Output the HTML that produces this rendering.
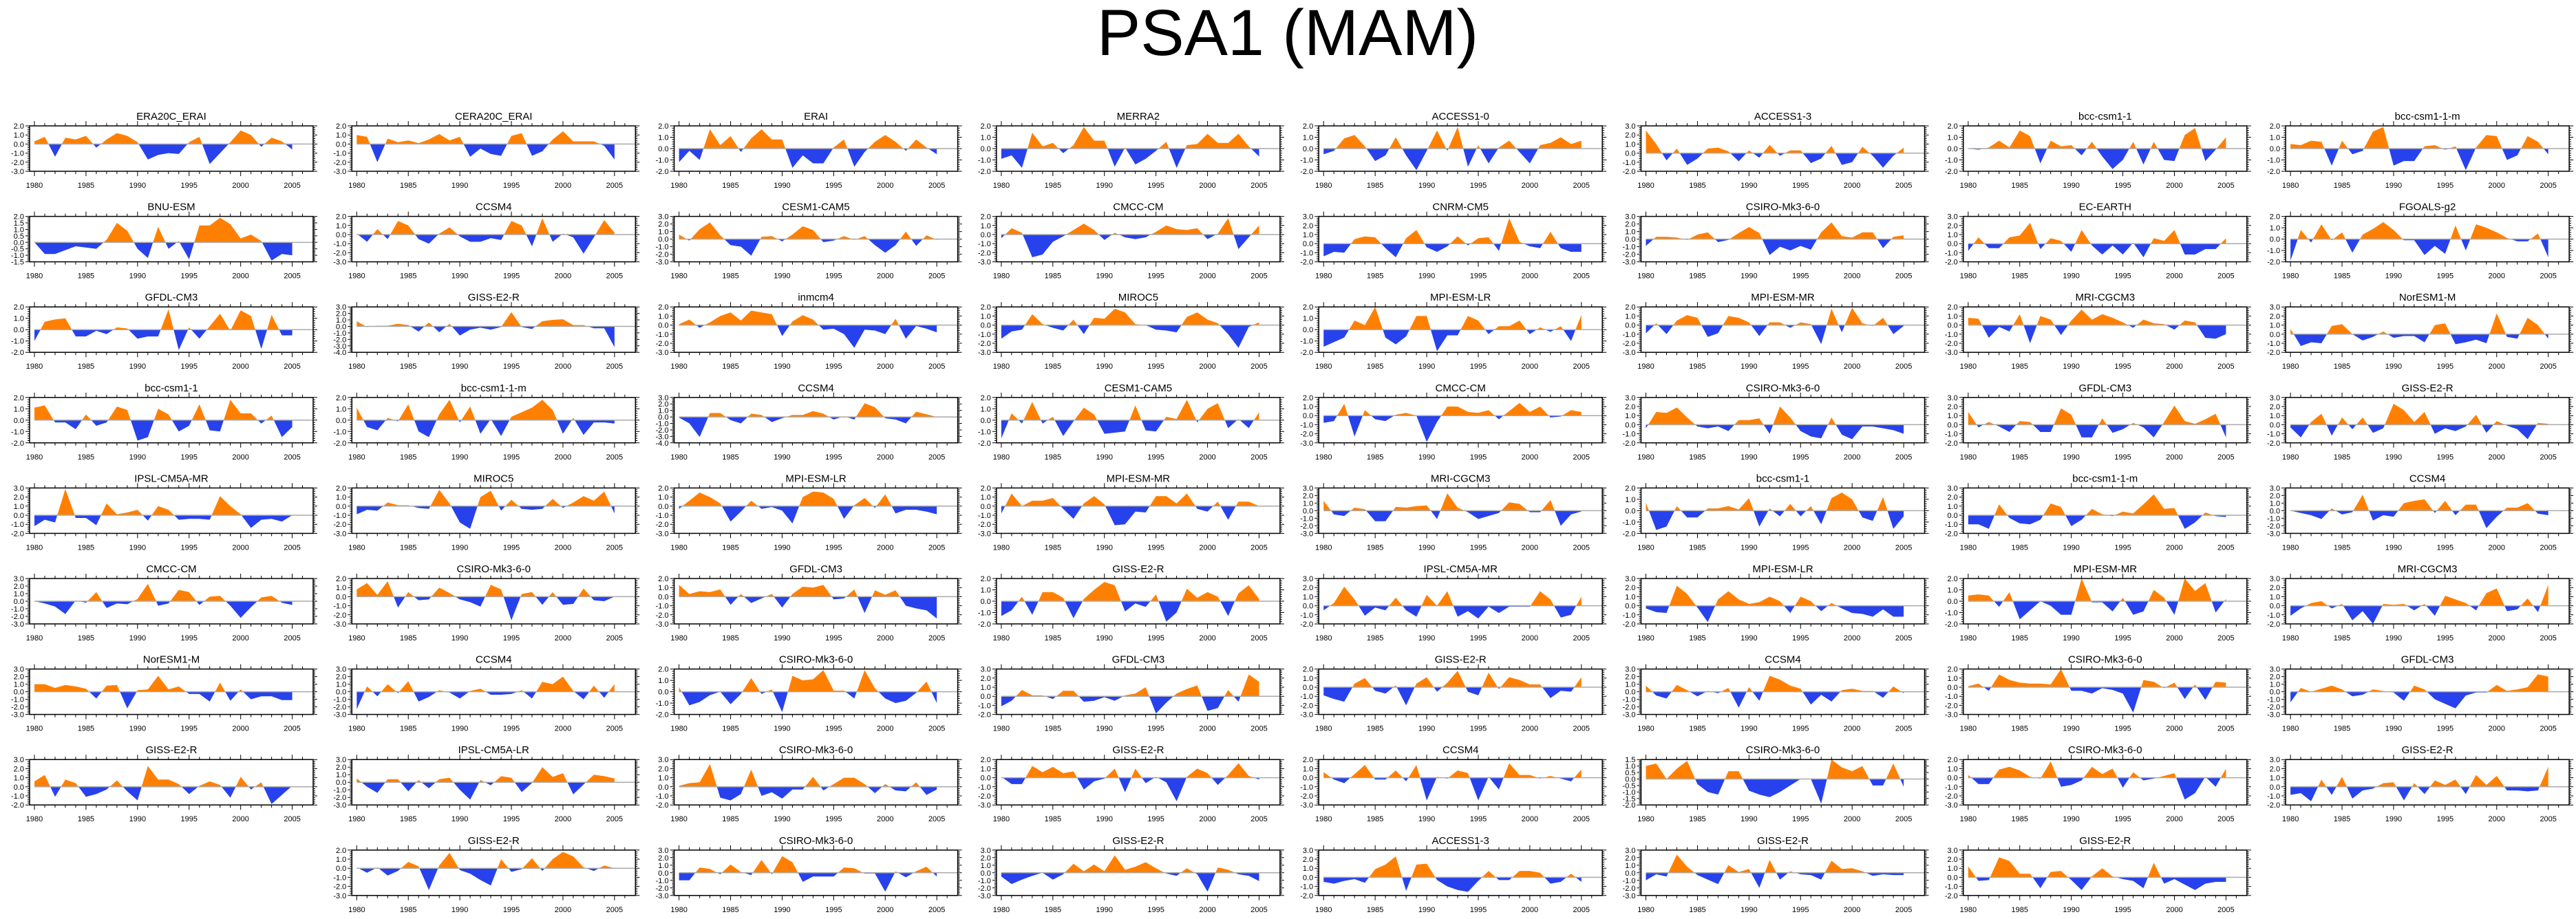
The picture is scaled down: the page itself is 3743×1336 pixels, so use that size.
<!DOCTYPE html>
<html><head><meta charset="utf-8">
<style>
body{margin:0;background:#fff;}
svg{display:block;font-family:"Liberation Sans",sans-serif;}
</style></head>
<body>
<svg id="fig" width="3743" height="1336" viewBox="0 0 3743 1336" xmlns="http://www.w3.org/2000/svg">
<text x="1871" y="80" text-anchor="middle" font-size="95" fill="#000">PSA1 (MAM)</text>
<g id="panels"></g>
</svg>
<script>
const years = [1980,1981,1982,1983,1984,1985,1986,1987,1988,1989,1990,1991,1992,1993,1994,1995,1996,1997,1998,1999,2000,2001,2002,2003,2004,2005];
const yearTickLabels = [1980,1985,1990,1995,2000,2005];
const panelTitles = [
"ERA20C_ERAI","CERA20C_ERAI","ERAI","MERRA2","ACCESS1-0","ACCESS1-3","bcc-csm1-1","bcc-csm1-1-m",
"BNU-ESM","CCSM4","CESM1-CAM5","CMCC-CM","CNRM-CM5","CSIRO-Mk3-6-0","EC-EARTH","FGOALS-g2",
"GFDL-CM3","GISS-E2-R","inmcm4","MIROC5","MPI-ESM-LR","MPI-ESM-MR","MRI-CGCM3","NorESM1-M",
"bcc-csm1-1","bcc-csm1-1-m","CCSM4","CESM1-CAM5","CMCC-CM","CSIRO-Mk3-6-0","GFDL-CM3","GISS-E2-R",
"IPSL-CM5A-MR","MIROC5","MPI-ESM-LR","MPI-ESM-MR","MRI-CGCM3","bcc-csm1-1","bcc-csm1-1-m","CCSM4",
"CMCC-CM","CSIRO-Mk3-6-0","GFDL-CM3","GISS-E2-R","IPSL-CM5A-MR","MPI-ESM-LR","MPI-ESM-MR","MRI-CGCM3",
"NorESM1-M","CCSM4","CSIRO-Mk3-6-0","GFDL-CM3","GISS-E2-R","CCSM4","CSIRO-Mk3-6-0","GFDL-CM3",
"GISS-E2-R","IPSL-CM5A-LR","CSIRO-Mk3-6-0","GISS-E2-R","CCSM4","CSIRO-Mk3-6-0","CSIRO-Mk3-6-0","GISS-E2-R",
"GISS-E2-R","CSIRO-Mk3-6-0","GISS-E2-R","ACCESS1-3","GISS-E2-R","GISS-E2-R"];
const yMaxValues = [2,2,2,2,2,3,2,2, 2,2,3,2,3,3,3,2, 2,3,2,2,2,2,2,3, 2,2,3,2,2,3,3,3, 3,2,2,2,3,2,3,3, 3,2,2,2,3,3,2,3, 3,3,2,3,2,3,2,3, 3,3,3,2,2,1.5,2,3, 2,3,3,3,3,3];
const yMinValues = [-3,-3,-2,-2,-2,-2,-2,-2, -1.5,-3,-3,-3,-2,-3,-2,-2, -2,-4,-3,-3,-2,-3,-3,-2, -2,-2,-4,-2,-3,-2,-2,-2, -2,-3,-3,-3,-3,-2,-2,-3, -3,-3,-3,-2,-2,-2,-2,-2, -3,-3,-2,-2,-3,-3,-3,-3, -2,-3,-2,-3,-3,-2,-3,-2, -3,-3,-3,-2,-3,-2];
const yTickSteps = [1,1,1,1,1,1,1,1, 0.5,1,1,1,1,1,1,1, 1,1,1,1,1,1,1,1, 1,1,1,1,1,1,1,1, 1,1,1,1,1,1,1,1, 1,1,1,1,1,1,1,1, 1,1,1,1,1,1,1,1, 1,1,1,1,1,0.5,1,1, 1,1,1,1,1,1];
const seriesValues = [
[0.3,0.8,-1.4,0.7,0.5,0.9,-0.4,0.5,1.2,0.9,0.2,-1.7,-1.2,-1.0,-1.1,0.2,0.8,-2.2,-1.0,0.2,1.5,1.0,-0.3,0.7,0.3,-0.6],
[1.0,0.8,-2.0,0.6,0.2,0.4,0.1,0.5,1.1,0.4,0.8,-1.4,-0.5,-1.1,-1.3,0.9,1.2,-1.3,-0.8,0.5,1.4,0.3,0.3,0.3,-0.2,-1.7],
[-1.2,-0.2,-1.0,1.7,0.3,1.1,-0.3,0.9,1.7,0.8,0.8,-1.7,-0.6,-1.3,-1.3,0.1,0.8,-1.6,-0.3,0.6,1.2,0.6,-0.2,0.8,0.1,-0.5],
[-0.9,-0.6,-1.7,1.4,0.2,0.5,-0.4,0.3,1.9,0.7,0.7,-1.6,0.1,-1.4,-0.9,-0.2,0.6,-1.7,0.3,0.4,1.3,0.5,0.5,1.3,0.2,-0.7],
[-0.5,-0.2,0.9,1.2,0.2,-1.1,-0.6,1.0,-0.6,-1.9,-0.2,1.6,-0.2,1.9,-1.6,0.3,-1.3,0.1,0.7,-0.3,-1.3,0.3,0.5,1.0,0.4,0.7],
[2.5,1.0,-0.8,0.5,-1.3,-0.6,0.5,0.6,0.2,-0.9,0.3,-0.5,0.9,-0.3,0.3,0.3,-1.1,-0.6,0.8,-1.3,-1.0,0.7,-0.3,-1.6,-0.3,0.6],
[0.0,-0.1,0.1,0.7,0.1,1.6,1.1,-1.3,0.7,0.2,0.3,-0.6,0.6,-0.7,-1.8,-1.0,0.6,-1.4,0.6,-1.0,-1.1,1.2,1.8,-1.1,-0.1,1.0],
[0.4,0.3,0.7,0.6,-1.5,0.7,-0.5,-0.2,1.5,1.9,-1.5,-1.1,-1.1,0.2,0.3,-0.1,0.2,-1.9,0.1,1.2,1.1,-1.0,-0.6,1.1,0.6,-0.5],
[0.0,-0.9,-0.9,-0.6,-0.3,-0.4,-0.5,0.2,1.5,0.9,-0.5,-1.2,1.2,-0.5,0.1,-1.3,1.3,1.3,1.9,1.4,0.3,0.6,0.1,-1.4,-0.9,-1.0],
[0.1,-0.8,0.6,-0.5,1.5,1.0,-0.5,-1.0,0.1,0.8,-0.2,-0.8,-0.8,-0.4,-0.6,1.5,1.0,-1.3,1.8,-0.8,0.1,-0.3,-2.1,-0.3,1.6,0.2],
[0.6,-0.2,1.3,2.2,0.5,-0.8,-1.0,-2.2,0.3,0.4,-0.3,0.6,1.7,1.2,-0.4,-0.2,0.4,-0.1,0.4,-0.8,-1.8,-0.8,1.0,-0.9,0.5,-0.1],
[-0.4,0.7,0.2,-2.5,-2.2,-0.8,-0.2,0.5,1.2,0.5,-0.6,0.2,-0.3,-0.5,-0.3,0.3,1.0,0.6,0.5,0.7,-0.5,0.1,1.8,-1.6,-0.3,1.0],
[-1.4,-0.9,-1.0,0.5,0.8,0.7,-0.5,-1.5,0.6,1.5,-0.4,-0.9,-0.3,0.8,-0.2,0.6,0.7,-0.8,2.8,0.2,-0.3,-0.5,1.3,-0.5,-0.9,-0.9],
[-0.9,0.3,0.3,0.2,-0.1,0.6,0.9,-0.4,-0.1,0.8,1.6,0.8,-2.1,-1.0,-1.5,-0.9,-1.4,0.9,2.2,0.4,0.2,0.9,0.9,-1.2,0.3,0.5],
[-0.8,0.7,-0.5,-0.5,0.7,0.9,2.3,-0.6,0.6,0.3,-0.9,1.5,-0.2,-1.2,-0.2,-1.2,0.1,-1.5,0.6,0.3,1.5,-1.2,-1.2,-0.6,-0.6,0.6],
[-1.9,0.8,-0.3,1.3,-0.1,0.6,-1.2,0.4,0.9,1.5,0.8,-0.1,-0.1,-1.4,-0.6,-1.3,1.2,-1.0,1.3,1.0,0.6,0.1,-0.2,-0.2,0.5,-1.6],
[-1.0,0.7,0.9,1.0,-0.6,-0.6,-0.1,-0.4,0.2,0.1,-0.8,-0.6,-0.6,1.8,-1.8,0.2,-0.8,0.3,1.4,-0.1,1.7,1.2,-1.7,1.3,-0.5,-0.5],
[0.8,-0.1,0.1,0.1,0.4,0.2,-0.8,0.6,-0.9,0.4,-1.4,-0.5,-0.2,-0.5,-0.1,2.2,-0.1,-0.4,0.8,1.0,1.1,0.2,0.2,-0.3,-0.3,-3.2],
[0.1,0.6,-0.3,0.3,1.0,1.4,0.5,1.6,1.4,1.2,-1.2,0.4,1.1,0.6,-0.5,-0.4,-1.0,-2.5,-0.5,-0.6,-1.0,0.7,-1.5,-0.1,-0.4,-0.8],
[-1.5,-0.7,-0.5,1.2,0.1,-0.3,-0.6,0.6,-1.0,0.8,0.7,1.8,1.4,0.1,0.0,-0.5,-0.6,-0.8,0.9,1.4,0.6,0.2,-1.0,-2.5,-0.2,0.3],
[-1.5,-1.1,-0.7,0.8,0.4,2.0,-0.7,-1.3,-0.6,1.2,1.2,-1.9,-0.5,-0.5,1.2,0.8,-0.4,0.3,0.3,0.8,-0.4,0.2,-0.2,0.3,-1.0,1.3],
[-0.9,0.2,-1.0,0.5,1.1,0.8,-1.3,-0.9,1.0,0.8,0.3,-1.2,0.3,0.3,-0.3,0.3,0.1,-2.1,1.8,-0.8,1.9,0.2,-0.1,0.8,-1.0,-0.1],
[0.8,0.7,-1.4,-0.2,-0.7,1.2,-2.0,1.0,0.6,-1.1,0.5,1.7,0.6,1.2,0.8,0.3,-0.3,0.6,0.2,0.1,-0.5,0.5,0.3,-1.4,-1.5,-1.0],
[0.6,-1.3,-0.9,-1.0,0.9,1.1,0.0,-0.7,-0.3,0.3,-0.4,-0.2,-0.2,-0.9,1.0,1.2,-1.1,-0.9,-0.6,-1.0,2.3,-0.3,-0.5,1.8,1.0,-0.5],
[1.1,1.3,-0.2,-0.2,-0.8,0.5,-0.5,-0.2,1.2,0.9,-1.8,-1.5,1.0,0.5,-1.0,-0.5,1.4,-0.9,-1.0,1.8,0.6,0.6,-0.3,0.4,-1.5,-0.6],
[1.1,-0.6,-0.9,0.2,-0.1,1.4,-1.0,-1.5,0.5,1.8,-0.2,1.2,-1.2,0.1,-1.4,0.3,0.7,1.1,1.8,0.9,-1.2,0.2,-1.3,-0.2,-0.2,-0.3],
[-0.1,-1.0,-3.1,0.6,0.6,-0.5,-1.0,0.5,0.3,-0.8,-0.2,0.3,0.3,0.9,0.5,-0.4,0.1,-0.4,2.1,1.5,-0.2,-0.4,-1.0,0.8,0.4,0.0],
[-1.6,0.6,-0.3,1.6,-0.3,0.3,-1.4,-0.1,1.1,0.5,-1.2,-1.1,-1.0,1.3,-0.9,-1.0,0.3,0.1,1.8,-0.2,1.0,1.5,-0.7,0.1,-0.7,0.7],
[-0.8,-0.6,1.3,-2.3,0.6,-0.4,-0.6,0.1,0.3,0.0,-2.9,-0.7,1.0,1.0,0.4,0.3,0.6,-0.4,0.5,1.4,0.4,1.0,-0.2,-0.1,0.6,0.4],
[-0.4,1.4,1.3,1.9,0.8,-0.2,-0.4,-0.2,-0.7,0.5,0.5,0.7,-1.0,2.0,0.8,-0.7,-1.3,-1.5,0.8,-1.1,-1.6,-0.2,-0.2,-0.4,-0.6,-1.0],
[1.4,-0.3,0.3,-0.2,-0.8,0.4,0.3,-0.8,-0.8,1.8,1.1,-1.4,-1.4,0.7,-0.9,-0.5,0.2,-0.3,-1.4,0.3,2.1,0.4,0.1,0.6,1.2,-1.4],
[-0.3,-1.4,0.3,1.2,-1.2,0.8,-0.5,0.8,-0.9,-0.4,2.3,1.6,0.3,1.4,-1.0,-0.4,-0.7,-0.2,1.1,-0.9,0.4,-0.1,-0.5,-1.6,0.2,0.1],
[-1.2,-0.5,-0.8,2.9,-0.3,-0.3,-1.1,1.3,0.1,0.3,0.6,-0.6,1.0,0.6,-0.5,-0.4,-0.4,-0.5,2.1,1.0,0.1,-1.4,-0.5,-0.4,-0.7,0.0],
[-0.9,-0.4,-0.5,0.4,0.1,0.1,-0.2,-0.3,1.8,0.3,-1.8,-2.5,1.0,1.7,-0.5,0.7,-0.3,-0.4,-0.3,0.8,-0.2,0.4,1.1,0.6,1.6,-0.8],
[-0.3,0.6,1.5,1.0,0.3,-1.7,-0.6,0.6,-0.3,-0.1,-0.5,-1.9,1.0,1.6,1.5,0.8,-1.4,0.1,0.9,-0.2,1.3,-0.8,-0.4,-0.4,-0.6,-0.9],
[-0.8,1.4,0.0,0.6,0.6,0.9,-0.3,-1.4,0.3,1.1,0.2,-2.1,-2.0,-0.6,-0.7,1.1,1.1,0.3,1.4,-0.3,-0.6,0.5,-1.5,0.5,0.5,0.0],
[1.3,-0.5,-0.7,0.4,0.2,-1.4,-1.4,0.5,0.4,0.6,0.7,-1.1,2.3,0.4,-0.2,-1.1,-0.7,-0.3,1.1,0.9,-0.2,-0.2,1.4,-2.0,-0.5,-0.1],
[0.7,-1.7,-1.4,0.4,-0.6,-0.6,0.2,0.2,0.4,0.1,1.1,-1.4,0.2,-0.5,0.6,-0.5,0.4,-1.2,1.1,1.6,1.0,-0.6,-0.9,1.2,-1.6,-0.5],
[-1.0,-1.0,-1.5,1.2,-0.3,-0.9,-1.0,-0.5,1.3,0.9,-1.2,-0.5,0.7,0.1,-0.1,0.4,0.2,1.2,2.3,0.7,0.8,-1.5,-0.8,0.3,-0.1,-0.2],
[0.0,-0.3,-0.6,-1.1,0.3,-0.5,-0.2,2.1,-1.3,-0.6,-0.8,1.0,1.3,1.5,-0.3,1.3,-0.6,0.8,0.8,-2.3,-0.8,0.4,0.4,1.0,-0.4,-0.6],
[0.0,-0.3,-0.7,-1.7,0.1,-0.2,1.2,-0.9,-0.3,-0.4,0.3,2.3,-0.6,-0.3,1.5,1.2,-0.5,0.6,0.7,-0.6,-2.2,-0.8,0.5,0.7,-0.2,-0.5],
[0.8,1.5,0.2,1.7,-1.2,0.5,-0.4,-0.3,1.0,0.4,-0.3,-0.6,-1.1,1.3,0.8,-2.6,0.3,0.5,-0.9,0.5,-0.9,-0.8,0.9,-0.4,-0.5,0.0],
[1.3,0.3,0.6,0.5,0.8,-0.9,0.3,-0.7,-0.2,0.3,-1.2,0.3,1.1,1.0,1.3,-0.3,-0.2,0.8,-1.8,0.7,0.2,0.7,-1.0,-1.3,-1.5,-2.4],
[-1.3,-0.8,0.4,-1.2,0.8,0.8,0.3,-1.5,0.2,1.0,1.7,1.4,-0.9,-0.2,-0.5,0.6,-1.8,-1.0,1.1,0.3,0.8,0.4,-1.3,0.7,1.4,0.2],
[-0.5,0.3,2.1,0.7,-1.1,-0.2,-0.5,0.9,-0.5,-1.2,1.2,0.0,1.6,-1.2,-0.6,-1.4,-0.1,-0.8,-0.1,-0.1,-0.1,1.6,0.7,-1.3,-1.0,1.0],
[-0.3,-0.7,-0.8,2.2,1.3,-0.2,-1.8,0.7,1.6,0.7,0.2,0.4,1.0,0.5,-0.8,1.0,0.5,-0.6,0.3,-0.3,-0.8,-0.9,-1.2,-0.4,-1.2,-1.2],
[0.5,0.6,0.5,-0.5,0.8,-1.6,-0.8,0.0,-0.4,-1.2,-1.2,2.0,-0.1,-0.1,-0.9,0.3,-1.2,-0.9,1.0,0.3,-1.2,2.0,0.9,1.6,-1.0,0.2],
[-1.1,-0.3,0.3,0.5,-0.3,0.2,-1.6,-0.6,-2.0,0.2,0.1,0.2,-0.5,0.2,-1.1,1.1,0.7,0.3,-0.5,1.4,1.9,-0.6,-0.4,0.8,-0.7,2.3],
[1.0,1.0,0.5,0.9,0.7,0.4,-0.9,0.8,0.9,-2.2,0.2,0.3,2.1,0.3,0.7,-0.3,-0.3,-1.3,1.2,-1.2,0.3,-1.0,-0.6,-0.6,-1.1,-1.1],
[-2.3,0.7,-0.6,1.0,-0.2,1.4,-1.3,-0.7,0.2,-0.1,-0.9,0.1,0.4,-0.4,-0.4,-0.3,0.2,-0.9,1.3,1.0,2.0,0.1,-1.0,0.8,-0.8,1.0],
[0.4,-1.2,-0.9,-0.3,0.0,-1.1,-0.2,1.2,-0.2,0.2,-1.8,1.4,1.0,1.1,1.9,0.1,0.1,-0.6,1.9,0.3,-0.6,-1.0,-0.8,-0.1,0.9,-1.0],
[-1.1,-0.5,0.7,0.1,0.1,-0.3,0.6,0.6,-0.6,-0.5,-0.1,-0.5,0.1,0.3,1.0,-1.9,-0.7,0.3,0.8,1.2,-1.6,-1.3,0.7,-0.6,2.4,1.6],
[-0.9,-1.3,-1.6,0.4,1.0,-0.4,-0.7,0.2,-2.0,0.4,1.1,-0.5,0.5,1.8,-0.5,-0.9,1.6,-0.2,1.1,0.8,0.3,0.3,-1.2,-0.4,-0.5,1.1],
[0.8,-0.5,-0.9,0.9,0.2,-0.6,0.1,-0.2,0.5,-2.1,0.6,-1.2,2.1,1.6,0.8,0.4,-1.7,-0.4,-1.3,0.2,0.4,0.1,0.1,-0.8,0.7,-0.2],
[0.1,0.4,-0.4,1.4,0.8,0.5,0.4,0.4,0.3,2.0,-0.4,-0.4,-0.7,-0.1,-0.3,-0.7,-2.8,0.8,0.6,-0.1,0.5,-1.3,0.3,-1.4,0.6,0.5],
[-1.4,0.5,0.0,0.4,0.8,0.3,-0.6,-0.4,0.3,0.1,-0.1,-1.2,0.8,0.3,-1.0,-1.6,-2.2,-0.5,-0.1,-0.1,0.9,0.1,0.3,0.6,2.3,2.0],
[0.6,1.3,-1.1,0.8,0.4,-1.1,-0.8,-0.3,0.7,-0.5,-1.5,2.3,0.8,0.8,0.3,-0.8,0.1,0.6,0.2,-1.2,1.1,-0.3,0.5,-1.9,-0.9,0.1],
[0.5,-0.6,-1.4,0.4,0.4,-1.2,0.3,-0.8,0.4,0.6,-1.0,-2.3,0.3,-0.4,0.8,0.6,-1.3,-0.1,2.0,0.7,1.2,-1.6,-0.3,1.0,0.8,0.5],
[0.1,0.4,0.5,2.5,-1.2,-1.5,-0.8,1.9,-1.0,-0.6,-1.3,-0.3,-0.3,1.1,-0.4,0.3,1.0,1.0,0.3,-0.7,0.3,-0.4,-0.5,0.5,-0.9,-0.3],
[0.1,-0.7,-0.7,1.3,0.6,1.2,0.5,0.7,-1.3,-0.4,-0.1,1.0,-1.6,1.0,-0.6,0.1,-0.5,-2.6,0.1,1.0,0.5,-0.8,0.3,1.6,0.2,-0.2],
[0.6,-0.2,-0.6,0.4,1.4,-0.2,-0.2,0.8,-0.4,1.4,-2.5,0.1,-0.1,0.8,0.5,-2.5,0.1,-1.3,1.6,0.3,0.3,-0.1,0.2,-0.1,-0.4,0.9],
[1.0,1.2,0.0,0.8,1.4,-0.4,-1.0,-1.2,0.6,0.6,-0.9,-1.2,-1.4,-1.0,-0.5,0.0,0.0,-1.9,1.5,0.9,0.6,1.0,-0.5,-0.5,1.2,-0.6],
[0.3,-0.7,-0.7,0.9,1.2,0.8,0.1,-0.1,1.8,-1.0,-0.8,-0.3,1.2,0.4,1.0,-1.1,0.6,-0.3,-0.1,0.2,0.5,-2.4,-1.7,0.1,-1.0,1.0],
[-0.9,-0.7,-1.6,0.8,-0.9,1.1,-1.3,-0.4,-0.2,0.4,0.5,-1.5,0.4,-0.8,0.7,0.2,0.8,-0.8,1.3,0.2,1.2,-0.4,-0.4,-0.5,-0.4,2.2],
[0.1,-0.5,0.1,-0.8,-0.3,0.7,0.2,-2.4,0.3,1.7,-0.2,-0.6,-1.3,-1.9,1.0,-0.4,-0.1,1.1,-0.3,1.0,1.8,1.3,0.1,-0.3,0.3,0.0],
[-1.0,-1.0,0.7,0.5,-0.2,1.1,0.1,-0.3,1.7,-0.2,2.2,1.4,-1.2,-0.5,-0.5,-0.5,0.7,0.6,-0.1,-0.1,-2.5,0.2,-0.6,0.2,0.8,-0.5],
[-0.5,-1.5,-0.9,-0.4,0.0,-0.9,-0.2,1.2,0.2,1.1,0.2,2.3,0.4,0.8,1.4,0.6,-0.1,-0.4,0.6,-0.2,-2.5,0.7,0.4,-0.2,-0.4,-1.1],
[-0.5,-0.7,-0.4,-0.2,-0.6,0.9,1.4,2.3,-1.5,1.4,1.5,-0.3,-1.0,-1.4,-1.6,-0.4,0.7,-0.3,-0.3,0.7,0.7,0.5,-0.7,-0.5,0.4,-0.5],
[-1.0,-0.2,-0.5,2.4,0.8,-0.3,-0.9,-1.5,1.0,0.1,0.5,-2.0,1.7,-0.9,0.2,-0.2,-0.3,-0.9,1.6,0.5,0.6,0.2,-0.4,-0.2,-0.3,-0.3],
[1.2,-0.4,-0.3,2.2,1.8,0.4,0.4,-1.2,0.6,0.7,-0.3,-1.4,0.1,1.0,0.1,-0.2,-0.4,-1.2,1.6,-0.7,-0.2,-0.8,-1.4,-0.7,-0.5,-0.5]
];

const NS = "http://www.w3.org/2000/svg";
const root = document.getElementById('panels');
const BOX_W = 412, BOX_H = 66, COL0 = 43, COL_STEP = 468.3, ROW0 = 183, ROW_STEP = 131.6;
const X_MIN = 1979.53, X_MAX = 2007.03;
const ORANGE = "#ff8000", BLUE = "#2742ec";
function mk(tag, attrs, parent){
  const e = document.createElementNS(NS, tag);
  for (const k in attrs) e.setAttribute(k, attrs[k]);
  parent.appendChild(e);
  return e;
}
function fmt(v){ return v.toFixed(1); }

function panelPosition(i){
  if (i < 64) return {row: Math.floor(i/8), col: i%8};
  return {row: 8, col: 1 + (i-64)};
}

for (let i = 0; i < panelTitles.length; i++) {
  const pos = panelPosition(i);
  const left = COL0 + pos.col*COL_STEP;
  const top = ROW0 + pos.row*ROW_STEP;
  const ymax = yMaxValues[i], ymin = yMinValues[i], vals = seriesValues[i];
  const xs = yr => left + (yr - X_MIN)/(X_MAX - X_MIN)*BOX_W;
  const ys = v => top + (ymax - v)/(ymax - ymin)*BOX_H;

  const g = mk('g', {}, root);
  
  

  const title = mk('text', {x: left + BOX_W/2, y: top - 9, 'text-anchor': 'middle', 'font-size': 15, fill: '#000'}, g);
  title.textContent = panelTitles[i];
  
  

  const defs = mk('defs', {}, g);
  const z = ys(0);
  const cpU = mk('clipPath', {id: 'up' + i}, defs);
  mk('rect', {x: left, y: top, width: BOX_W, height: Math.max(0, z - top)}, cpU);
  const cpD = mk('clipPath', {id: 'dn' + i}, defs);
  mk('rect', {x: left, y: z, width: BOX_W, height: Math.max(0, top + BOX_H - z)}, cpD);

  let d = 'M' + xs(years[0]).toFixed(2) + ',' + z.toFixed(2);
  for (let k = 0; k < years.length; k++) d += ' L' + xs(years[k]).toFixed(2) + ',' + ys(vals[k]).toFixed(2);
  d += ' L' + xs(years[years.length-1]).toFixed(2) + ',' + z.toFixed(2) + ' Z';

  const pos1 = mk('path', {d: d, fill: ORANGE, 'clip-path': 'url(#up' + i + ')'}, g);
  
  
  const neg1 = mk('path', {d: d, fill: BLUE, 'clip-path': 'url(#dn' + i + ')'}, g);
  
  

  const zl = mk('line', {x1: xs(years[0]), x2: left + BOX_W, y1: z, y2: z, stroke: '#aaa', 'stroke-width': 1.5}, g);
  
  

  const box = mk('rect', {x: left, y: top, width: BOX_W, height: BOX_H, fill: 'none', stroke: '#000', 'stroke-width': 1.5}, g);
  
  

  let tk = '';
  for (let yr = 1980; yr <= 2006; yr++) {
    const x = xs(yr).toFixed(2);
    const L = (yr % 5 === 0) ? 7 : 4;
    tk += 'M' + x + ',' + top + 'v' + (-L) + 'M' + x + ',' + (top + BOX_H) + 'v' + L;
  }
  const step = yTickSteps[i];
  const minor = step / 5;
  for (let v = ymin; v <= ymax + 1e-6; v += minor) {
    const y = ys(v).toFixed(2);
    const isMajor = Math.abs(Math.round(v/step)*step - v) < 1e-6;
    const L = isMajor ? 6 : 3;
    tk += 'M' + left + ',' + y + 'h' + (-L) + 'M' + (left + BOX_W) + ',' + y + 'h' + L;
  }
  const ticks = mk('path', {d: tk, stroke: '#000', 'stroke-width': 1, fill: 'none'}, g);
  
  

  for (const yr of yearTickLabels) {
    const t = mk('text', {x: xs(yr), y: top + BOX_H + 24, 'text-anchor': 'middle', 'font-size': 11, fill: '#000'}, g);
    t.textContent = yr;
    
    
  }
  for (let v = ymin; v <= ymax + 1e-6; v += step) {
    const t = mk('text', {x: left - 8, y: ys(v) + 4, 'text-anchor': 'end', 'font-size': 11, fill: '#000'}, g);
    t.textContent = fmt(Math.round(v*10)/10);
    
    
  }
}
</script>
</body></html>
